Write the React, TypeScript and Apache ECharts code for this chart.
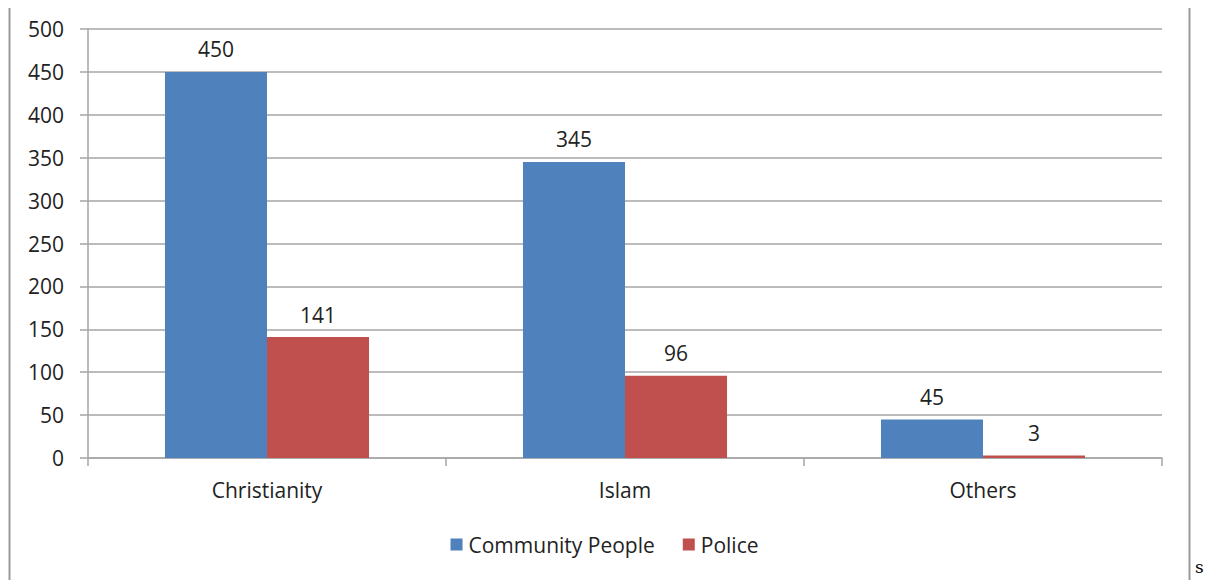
import React, { useEffect, useRef } from "react";
import * as echarts from "echarts";

const categories = ["Christianity", "Islam", "Others"];
const communityPeople = [450, 345, 45];
const police = [141, 96, 3];
const yTicks = { min: 0, max: 500, interval: 50 };

const FONT = "'Open Sans', 'Noto Sans', sans-serif";
const FS = 21;

export default function App() {
  const ref = useRef<HTMLDivElement>(null);
  useEffect(() => {
    if (!ref.current) return;
    const chart = echarts.init(ref.current, null, { renderer: "svg" });
    const labelStyle = {
      show: true,
      position: "top" as const,
      distance: 12,
      color: "#222",
      fontSize: FS,
      fontFamily: FONT,
    };
    chart.setOption({
      animation: false,
      backgroundColor: "#ffffff",
      grid: { left: 88, right: 47, top: 29, bottom: 122, containLabel: false },
      legend: {
        data: ["Community People", "Police"],
        bottom: 20,
        left: "center",
        itemWidth: 12,
        itemHeight: 12,
        itemGap: 28,
        icon: "rect",
        textStyle: { color: "#222", fontSize: FS, fontFamily: FONT, padding: [0, 0, 0, 1] },
      },
      xAxis: {
        type: "category",
        data: categories,
        axisLine: { show: true, lineStyle: { color: "#a6a6a6", width: 1.5 } },
        axisTick: { show: true, length: 8, alignWithLabel: false, lineStyle: { color: "#a6a6a6", width: 1.5 } },
        axisLabel: { color: "#222", fontSize: FS, fontFamily: FONT, margin: 21 },
      },
      yAxis: {
        type: "value",
        min: yTicks.min,
        max: yTicks.max,
        interval: yTicks.interval,
        axisLine: { show: true, lineStyle: { color: "#a6a6a6", width: 1.5 } },
        axisTick: { show: true, length: 8, lineStyle: { color: "#a6a6a6", width: 1.5 } },
        axisLabel: { color: "#222", fontSize: FS, fontFamily: FONT, margin: 24 },
        splitLine: { show: true, lineStyle: { color: "#a6a6a6", width: 1.5 } },
      },
      series: [
        {
          name: "Community People",
          type: "bar",
          data: communityPeople,
          barGap: "0%",
          barCategoryGap: "43%",
          itemStyle: { color: "#4F81BD" },
          label: labelStyle,
        },
        {
          name: "Police",
          type: "bar",
          data: police,
          itemStyle: { color: "#C0504D" },
          label: labelStyle,
        },
      ],
      graphic: [
        { type: "line", shape: { x1: 9.5, y1: 8, x2: 9.5, y2: 580 }, style: { stroke: "#999", lineWidth: 2 } },
        { type: "line", shape: { x1: 1189.5, y1: 8, x2: 1189.5, y2: 580 }, style: { stroke: "#999", lineWidth: 2 } },
        {
          type: "text",
          x: 1195,
          y: 558,
          style: { text: "s", fontSize: 17, fontFamily: "'DejaVu Serif', 'Liberation Serif', serif", fill: "#000" },
        },
      ],
    });
    return () => chart.dispose();
  }, []);
  return (
    <div
      ref={ref}
      style={{ position: "fixed", left: 0, top: 0, width: 1209, height: 580 }}
    />
  );
}
